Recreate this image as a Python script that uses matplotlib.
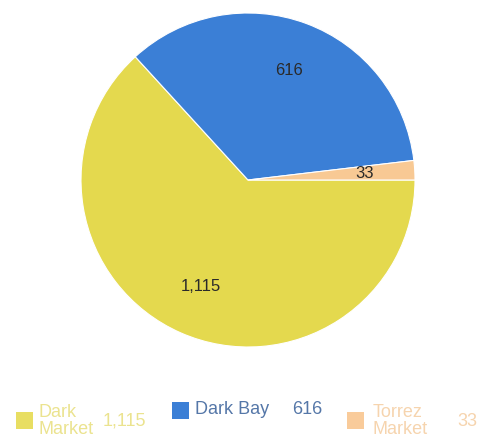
import matplotlib.pyplot as plt
from matplotlib.patches import Rectangle

plt.rcParams['font.family'] = ['Liberation Sans', 'DejaVu Sans']

labels = ['Dark\nMarket', 'Dark Bay', 'Torrez\nMarket']
values = [1115, 616, 33]
value_text = ['1,115', '616', '33']
colors = ['#e4d94e', '#3b7fd6', '#f8c994']

W, H = 481, 441
fig = plt.figure(figsize=(W / 100, H / 100), dpi=100)

# pie centre ~ (248, 180) px, radius ~167 px
cx, cy, r = 248, 180, 167
ax = fig.add_axes([(cx - r) / W, (H - cy - r) / H, 2 * r / W, 2 * r / H])
ax.pie(values, colors=colors, startangle=0, counterclock=False,
       labels=value_text, labeldistance=0.70, radius=1,
       wedgeprops=dict(edgecolor='white', linewidth=0.8),
       textprops=dict(fontsize=12, color='#2a2a2a', ha='center', va='center'))
for t in ax.texts:
    t.set_ha('center')
ax.set_xlim(-1, 1)
ax.set_ylim(-1, 1)
ax.set_aspect('equal')
ax.axis('off')

# legend drawn by hand (pixel positions)
def px(x, y):
    return x / W, 1 - y / H

sq_x = [16, 172, 347]
txt_x = [39, 195, 373]
num_x = [103, 292, 457]
faded = [True, False, True]
text_col = ['#ebe38f', '#5577a8', '#f6d4ae']
sq_col = ['#e8de62', '#3b7fd6', '#f9cb9a']
for i in range(3):
    sq_bottom = 429 if faded[i] else 419
    fig.patches.append(Rectangle(px(sq_x[i], sq_bottom), 17 / W, 17 / H,
                                 transform=fig.transFigure,
                                 facecolor=sq_col[i], edgecolor='none'))
    ty = 421 if faded[i] else 410
    fig.text(*px(txt_x[i], ty), labels[i], fontsize=13, color=text_col[i],
             ha='left', va='center', linespacing=1.05)
    ny = 421 if faded[i] else 410
    fig.text(*px(num_x[i], ny), value_text[i], fontsize=13, color=text_col[i],
             ha='left', va='center')

fig.savefig('out.png', dpi=100)
